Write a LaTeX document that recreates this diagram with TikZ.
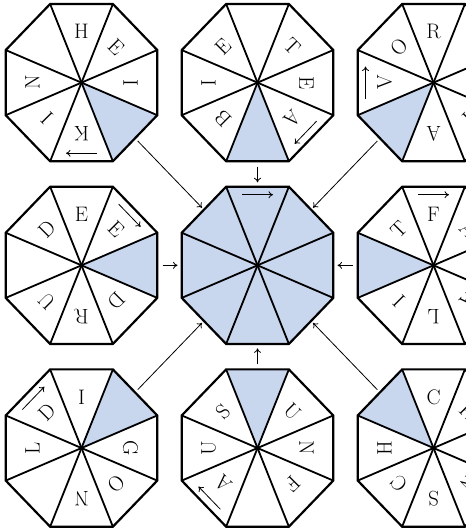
\documentclass[tikz,border=0pt]{standalone}
\usetikzlibrary{calc,arrows.meta}
\usepackage{xcolor}
\definecolor{sectorColor}{RGB}{200,214,238}
\newcommand{\octfont}{\fontsize{21}{25}\selectfont}
\newcommand{\octradius}{82}
% octagon: centre, shaded sectors (angles)
\newcommand{\octagon}[2]{%
  \begin{scope}[shift={(#1)}]
    \foreach \s in {#2}
      \fill[sector] (0,0) -- (\s+22.5:\octradius) -- (\s-22.5:\octradius) -- cycle;
    \foreach \a in {22.5,67.5,...,337.5}
      \draw[spoke] (0,0) -- (\a:\octradius);
    \draw[rim] (22.5:\octradius) \foreach \a in {67.5,112.5,...,337.5} { -- (\a:\octradius) } -- cycle;
  \end{scope}}
% letters: centre, angle/letter pairs
\newcommand{\octletters}[2]{%
  \foreach \a/\t [count=\n] in {#2}
    \node[letter, rotate=\a-90] (#1-\n) at ($(#1)+(\a:49)$) {\t};}
% reading direction: centre, sector angle
\newcommand{\octarrow}[2]{%
  \draw[turn] ($(#1)+(#2:68)+(#2+90:15.5)$) -- ($(#1)+(#2:68)+(#2-90:15.5)$);}

\begin{document}
\begin{tikzpicture}[
    x=1pt, y=1.038pt,
    rim/.style={line width=2.2pt, line join=miter},
    spoke/.style={line width=1.8pt},
    sector/.style={fill=sectorColor},
    letter/.style={inner sep=0pt, font=\octfont},
    turn/.style={-{To[length=4.5pt,width=7pt]}, line width=0.8pt},
    link/.style={-{To[length=4.5pt,width=7pt]}, line width=0.8pt, shorten <=81pt, shorten >=80pt},
    vlink/.style={link, shorten <=84pt, shorten >=83pt}
  ]
  \useasboundingbox (-257.5,-254) rectangle (207.5,255.6);

  \coordinate (mid) at (0,0);
  \coordinate (tl) at (-176,176);
  \coordinate (tc) at (0,176);
  \coordinate (tr) at (176,176);
  \coordinate (ml) at (-176,0);
  \coordinate (mr) at (176,0);
  \coordinate (bl) at (-176,-176);
  \coordinate (bc) at (0,-176);
  \coordinate (br) at (176,-176);

  \octagon{tl}{-45}
  \octletters{tl}{90/H, 45/E, 0/I, -90/K, -135/I, 180/N}
  \octarrow{tl}{-90}

  \octagon{tc}{-90}
  \octletters{tc}{45/T, 0/E, -45/A, -135/B, 180/I, 135/E}
  \octarrow{tc}{-45}

  \octagon{tr}{-135}
  \octletters{tr}{90/R, 0/U, -45/I, -90/A, 180/V, 135/O}
  \octarrow{tr}{180}

  \octagon{ml}{0}
  \octletters{ml}{90/E, 45/E, -45/D, -90/R, -135/U, 135/D}
  \octarrow{ml}{45}

  \octagon{mid}{0,45,...,315}
  \octarrow{mid}{90}

  \octagon{mr}{180}
  \octletters{mr}{90/F, 45/A, 0/T, -45/A, -90/L, -135/I, 135/T}
  \octarrow{mr}{90}

  \octagon{bl}{45}
  \octletters{bl}{90/I, 0/G, -45/O, -90/N, 180/L, 135/D}
  \octarrow{bl}{135}

  \octagon{bc}{90}
  \octletters{bc}{45/U, 0/N, -45/F, -135/A, 180/U, 135/S}
  \octarrow{bc}{-135}

  \octagon{br}{135}
  \octletters{br}{90/C, 45/K, 0/E, -45/N, -90/S, -135/C, 180/H}

  \draw[link] (tl) -- (mid);
  \draw[vlink] (tc) -- (mid);
  \draw[link] (tr) -- (mid);
  \draw[link] (ml) -- (mid);
  \draw[link] (mr) -- (mid);
  \draw[link] (bl) -- (mid);
  \draw[vlink] (bc) -- (mid);
  \draw[link] (br) -- (mid);
\end{tikzpicture}
\end{document}
